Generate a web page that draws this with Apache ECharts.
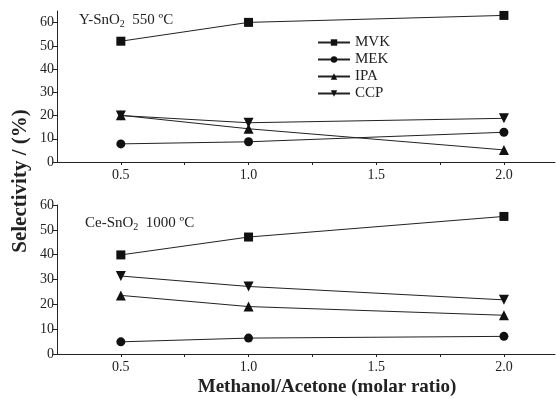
<!DOCTYPE html>
<html><head><meta charset="utf-8">
<script src="https://cdn.jsdelivr.net/npm/echarts@6/dist/echarts.min.js"></script>
<style>html,body{margin:0;padding:0;background:#fff}#c{width:557px;height:398px}</style>
</head><body><div id="c"></div>
<script>
const ratios = [0.5, 1.0, 2.0];
const seriesNames = ['MVK', 'MEK', 'IPA', 'CCP'];
const symbols = ['rect', 'circle', 'triangle', 'path://M0,0 L10,0 L5,9 Z'];
// Top panel: Y-SnO2 550 ºC
const topMVK = [52.0, 60.1, 63.1];
const topMEK = [7.8, 8.7, 12.8];
const topIPA = [20.1, 14.3, 5.2];
const topCCP = [20.0, 16.9, 18.8];
// Bottom panel: Ce-SnO2 1000 ºC
const botMVK = [39.9, 47.1, 55.4];
const botMEK = [4.9, 6.4, 7.1];
const botIPA = [23.6, 19.1, 15.6];
const botCCP = [31.4, 27.2, 21.8];
const xTicks = [0.5, 1.0, 1.5, 2.0];
const xMinor = [0.5, 0.75, 1.0, 1.25, 1.5, 1.75, 2.0];
const yTicks = [0, 10, 20, 30, 40, 50, 60];

const topData = [topMVK, topMEK, topIPA, topCCP];
const botData = [botMVK, botMEK, botIPA, botCCP];
const font = '"Liberation Serif", "Times New Roman", serif';

function xAxisDef(idx) {
  return {
    gridIndex: idx, type: 'value', min: 0.25, max: 2.2,
    axisLine: {show: true, onZero: false, lineStyle: {color: '#222', width: 1}},
    axisTick: {show: true, customValues: xMinor, length: 3, lineStyle: {color: '#222'}},
    axisLabel: {customValues: xTicks, color: '#222', fontFamily: font, fontSize: 14, margin: 6,
      formatter: v => v.toFixed(1)},
    splitLine: {show: false}
  };
}
function yAxisDef(idx, max) {
  return {
    gridIndex: idx, type: 'value', min: 0, max: max,
    axisLine: {show: true, lineStyle: {color: '#222', width: 1}},
    axisTick: {show: true, customValues: yTicks, length: 4, lineStyle: {color: '#222'}},
    axisLabel: {customValues: yTicks, color: '#222', fontFamily: font, fontSize: 14, margin: 3},
    splitLine: {show: false}
  };
}
const series = [];
[topData, botData].forEach((panel, gi) => {
  panel.forEach((vals, si) => {
    series.push({
      name: seriesNames[si], type: 'line', xAxisIndex: gi, yAxisIndex: gi,
      data: ratios.map((x, i) => [x, vals[i]]),
      symbol: symbols[si], symbolSize: si >= 2 ? 10 : 9,
      showSymbol: true,
      itemStyle: {color: '#111'},
      lineStyle: {color: '#222', width: 1},
      z: 3
    });
  });
});
const chart = echarts.init(document.getElementById('c'));
chart.setOption({
  animation: false,
  backgroundColor: '#fff',
  grid: [
    {left: 57, right: 2, top: 11, bottom: 236},
    {left: 57, right: 2, top: 205, bottom: 44}
  ],
  xAxis: [xAxisDef(0), xAxisDef(1)],
  yAxis: [yAxisDef(0, 65), yAxisDef(1, 60)],
  legend: {
    data: seriesNames, orient: 'vertical', left: 312, top: 30,
    itemWidth: 32, itemHeight: 8, itemGap: 2,
    textStyle: {fontFamily: font, fontSize: 15, lineHeight: 15, color: '#222'}
  },
  graphic: [
    {type: 'text', left: 79, top: 13, style: {
      text: '{a|Y-SnO}{s|2}{a|  550 ºC}',
      rich: {a: {fontFamily: font, fontSize: 15, fill: '#222'}, s: {fontFamily: font, fontSize: 10, fill: '#222', padding: [8,0,0,0]}}
    }},
    {type: 'text', left: 85, top: 216, style: {
      text: '{a|Ce-SnO}{s|2}{a|  1000 ºC}',
      rich: {a: {fontFamily: font, fontSize: 15, fill: '#222'}, s: {fontFamily: font, fontSize: 10, fill: '#222', padding: [8,0,0,0]}}
    }},
    {type: 'text', x: 21, y: 181, rotation: Math.PI / 2, style: {
      text: 'Selectivity / (%)', fontFamily: font, fontSize: 21, fontWeight: 'bold', fill: '#222',
      align: 'center', verticalAlign: 'middle'
    }},
    {type: 'text', x: 327, y: 387, style: {
      text: 'Methanol/Acetone (molar ratio)', fontFamily: font, fontSize: 19, fontWeight: 'bold', fill: '#222',
      align: 'center', verticalAlign: 'middle'
    }}
  ],
  series: series
});
</script></body></html>
